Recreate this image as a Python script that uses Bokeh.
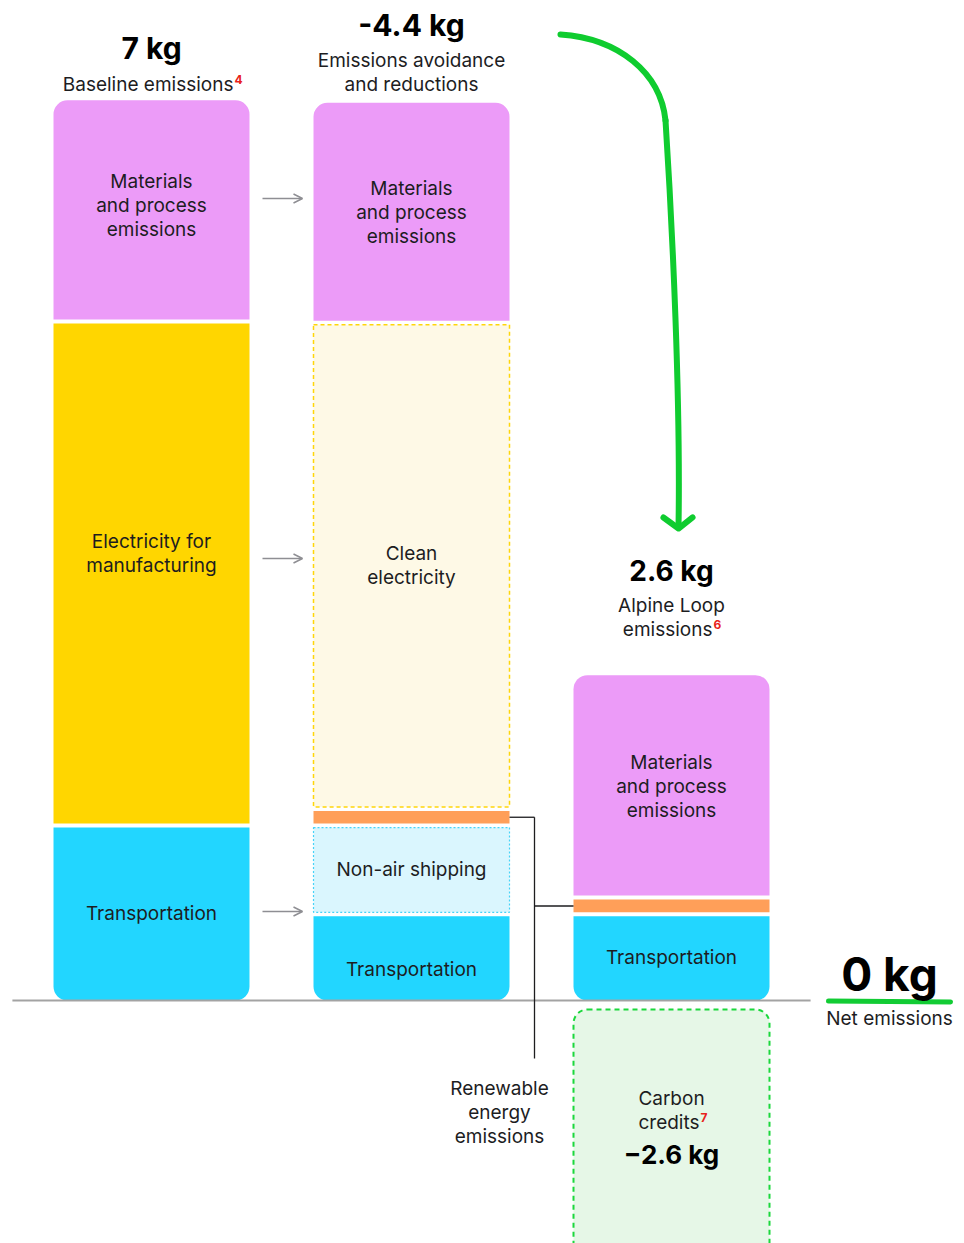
from bokeh.plotting import figure
from bokeh.models import Range1d, Arrow, OpenHead
from bokeh.core.properties import value
from bokeh.embed import file_html
from bokeh.resources import INLINE

# ---------------- data ----------------
columns = ["Baseline", "Avoidance", "Alpine Loop"]
col_titles = ["7 kg", "-4.4 kg", "2.6 kg"]
col_subtitles = ["Baseline emissions", "Emissions avoidance\nand reductions", "Alpine Loop\nemissions"]
col_footnotes = ["4", "", "6"]

# stacked segments, bottom to top (kg)
baseline_kinds = ["transport", "electricity", "materials"]
baseline_labels = ["Transportation", "Electricity for\nmanufacturing", "Materials\nand process\nemissions"]
baseline_values = [1.36, 3.92, 1.72]

avoid_kinds = ["transport", "shipping", "renewable", "clean", "materials"]
avoid_labels = ["Transportation", "Non-air shipping", "", "Clean\nelectricity", "Materials\nand process\nemissions"]
avoid_values = [0.67, 0.69, 0.13, 3.78, 1.71]

alpine_kinds = ["transport", "renewable", "materials"]
alpine_labels = ["Transportation", "", "Materials\nand process\nemissions"]
alpine_values = [0.67, 0.13, 1.73]

credit_value = -2.6
credit_label_top = "Carbon"
credit_label_sup = "credits"
credit_footnote = "7"
credit_amount = "\u22122.6 kg"

net_title = "0 kg"
net_subtitle = "Net emissions"
renewable_label = "Renewable\nenergy\nemissions"

# ---------------- layout ----------------
W, H = 964, 1243
PX_PER_KG = 128.6
PX_PER_COL = 260.0
BASE_FROM_TOP = 1000
COL0_FROM_LEFT = 151
ky = 1.0 / PX_PER_KG
kx = 1.0 / PX_PER_COL
x_start = -COL0_FROM_LEFT * kx
x_end = x_start + W * kx
y_end = BASE_FROM_TOP * ky
y_start = y_end - H * ky
BW = 196 * kx
GAP = 2 * ky
LH = 1.04

FONT = value("Inter")
TXT = "#1d1d1f"

styles = {
    "materials": dict(fill_color="#EC9BF8", line_color=None),
    "electricity": dict(fill_color="#FFD600", line_color=None),
    "transport": dict(fill_color="#22D6FF", line_color=None),
    "clean": dict(fill_color="#FEF9E6", line_color="#FFD60A", line_dash="4 3", line_width=1.5),
    "shipping": dict(fill_color="#DAF6FE", line_color="#45D3F8", line_dash="2 2", line_width=1.2),
    "renewable": dict(fill_color="#FF9F59", line_color=None),
}
# label nudges in screen px (positive = up)
label_nudge = {(0, "materials"): 5, (0, "electricity"): 20, (1, "transport"): -12}

p = figure(width=W, height=H, x_range=Range1d(x_start, x_end), y_range=Range1d(y_start, y_end),
           output_backend="svg", toolbar_location=None, x_axis_type=None, y_axis_type=None,
           min_border=0)
p.outline_line_color = None
p.background_fill_color = "white"

stacks = [(baseline_kinds, baseline_labels, baseline_values),
          (avoid_kinds, avoid_labels, avoid_values),
          (alpine_kinds, alpine_labels, alpine_values)]

seg_centers = []
col_tops = []
for ci, (kinds, labels, vals) in enumerate(stacks):
    bottom = 0.0
    centers = {}
    n = len(vals)
    for si, (k, lab, v) in enumerate(zip(kinds, labels, vals)):
        top = bottom + v
        radius = 0
        b_in, t_in = GAP, GAP
        if si == n - 1:
            radius = (14, 14, 0, 0)
            t_in = 0
        elif si == 0:
            radius = (0, 0, 14, 14)
            b_in = 0
        p.quad(left=[ci - BW / 2], right=[ci + BW / 2], bottom=[bottom + b_in], top=[top - t_in],
               border_radius=radius, **styles[k])
        c = (bottom + top) / 2
        centers[k] = c
        if lab:
            dy = label_nudge.get((ci, k), 0) * ky
            p.text(x=[ci], y=[c + dy], text=[lab], text_font=FONT, text_font_size="19px",
                   text_color=TXT, text_align="center", text_baseline="middle", text_line_height=LH)
        bottom = top
    seg_centers.append(centers)
    col_tops.append(bottom)

# carbon credits (negative)
p.quad(left=[2 - BW / 2], right=[2 + BW / 2], bottom=[credit_value], top=[-9 * ky],
       border_radius=14, fill_color="#E6F7E7", line_color="#1BD83C", line_dash="5 4", line_width=2)

# baseline rule
p.segment(x0=[-0.535], x1=[2.535], y0=[0], y1=[0], line_color="#A3A3A3", line_width=2)

# column titles
title_px = [52, 78, 104]
sub_px = [16, 30, 58]
title_size = ["30px", "30px", "28px"]
for ci in range(3):
    top = col_tops[ci]
    p.text(x=[ci], y=[top + title_px[ci] * ky], text=[col_titles[ci]], text_font=FONT,
           text_font_size=title_size[ci], text_font_style="bold", text_color="black",
           text_align="center", text_baseline="middle")
subs_y = [col_tops[i] + sub_px[i] * ky for i in range(3)]
# col 0: one line + footnote
p.text(x=[0 + 82 * kx], y=[subs_y[0]], text=[col_subtitles[0]], text_font=FONT, text_font_size="19px",
       text_color=TXT, text_align="right", text_baseline="middle")
p.text(x=[0 + 83 * kx], y=[subs_y[0] + 5 * ky], text=[col_footnotes[0]], text_font=FONT,
       text_font_size="12px", text_font_style="bold", text_color="#E8231B", text_align="left",
       text_baseline="middle")
# col 1
p.text(x=[1], y=[subs_y[1]], text=[col_subtitles[1]], text_font=FONT, text_font_size="19px",
       text_color=TXT, text_align="center", text_baseline="middle", text_line_height=LH)
# col 2: two lines, footnote after second
l1, l2 = col_subtitles[2].split("\n")
p.text(x=[2], y=[subs_y[2] + 12 * ky], text=[l1], text_font=FONT, text_font_size="19px",
       text_color=TXT, text_align="center", text_baseline="middle")
p.text(x=[2 + 41 * kx], y=[subs_y[2] - 12 * ky], text=[l2], text_font=FONT, text_font_size="19px",
       text_color=TXT, text_align="right", text_baseline="middle")
p.text(x=[2 + 42 * kx], y=[subs_y[2] - 7 * ky], text=[col_footnotes[2]], text_font=FONT,
       text_font_size="12px", text_font_style="bold", text_color="#E8231B", text_align="left",
       text_baseline="middle")

# grey arrows between col 0 and col 1
arrow_y_px = [802, 442, 89]  # screen px above the baseline
for dpx in arrow_y_px:
    yy = dpx * ky
    p.add_layout(Arrow(x_start=0 + BW / 2 + 13 * kx, x_end=1 - BW / 2 - 11 * kx, y_start=yy, y_end=yy,
                       line_color="#8E8E93", line_width=1.5,
                       end=OpenHead(size=9, line_color="#8E8E93", line_width=1.5)))

# renewable connector
xc = 1 + 123 * kx
y1 = seg_centers[1]["renewable"]
y2 = seg_centers[2]["renewable"]
p.segment(x0=[1 + BW / 2, xc, xc], x1=[xc, xc, 2 - BW / 2], y0=[y1, y1, y2], y1=[y1, -58 * ky, y2],
          line_color="#1d1d1f", line_width=1.3)
p.text(x=[1 + 88 * kx], y=[-112 * ky], text=[renewable_label], text_font=FONT, text_font_size="19px",
       text_color=TXT, text_align="center", text_baseline="middle", text_line_height=LH)

# carbon credit labels
p.text(x=[2], y=[-98 * ky], text=[credit_label_top], text_font=FONT, text_font_size="19px",
       text_color=TXT, text_align="center", text_baseline="middle")
p.text(x=[2 + 28 * kx], y=[-122 * ky], text=[credit_label_sup], text_font=FONT, text_font_size="19px",
       text_color=TXT, text_align="right", text_baseline="middle")
p.text(x=[2 + 29 * kx], y=[-117 * ky], text=[credit_footnote], text_font=FONT, text_font_size="12px",
       text_font_style="bold", text_color="#E8231B", text_align="left", text_baseline="middle")
p.text(x=[2], y=[-154 * ky], text=[credit_amount], text_font=FONT, text_font_size="26px",
       text_font_style="bold", text_color="black", text_align="center", text_baseline="middle")

# net emissions
xn = 2 + 218 * kx
p.segment(x0=[2 + 157 * kx], x1=[2 + 279 * kx], y0=[-0.5 * ky], y1=[-1.5 * ky],
          line_color="#12CC34", line_width=5, line_cap="round")
p.text(x=[xn], y=[27 * ky], text=[net_title], text_font=FONT, text_font_size="46px",
       text_font_style="bold", text_color="black", text_align="center", text_baseline="middle")
p.text(x=[xn], y=[-18 * ky], text=[net_subtitle], text_font=FONT, text_font_size="19px",
       text_color=TXT, text_align="center", text_baseline="middle")

# green hand-drawn arrow
G = "#0FCC2F"
p.bezier(x0=[1.573, 1.977], y0=[7.512, 6.843], x1=[1.977, 2.027], y1=[6.843, 3.686],
         cx0=[1.796, 2.004], cy0=[7.481, 5.988], cx1=[1.958, 2.035], cy1=[7.216, 4.666],
         line_color=G, line_width=6, line_cap="round")
p.line(x=[1.969, 2.027, 2.081], y=[3.756, 3.670, 3.756], line_color=G, line_width=6,
       line_cap="round", line_join="round")

open("out.html", "w").write(file_html(p, INLINE))
